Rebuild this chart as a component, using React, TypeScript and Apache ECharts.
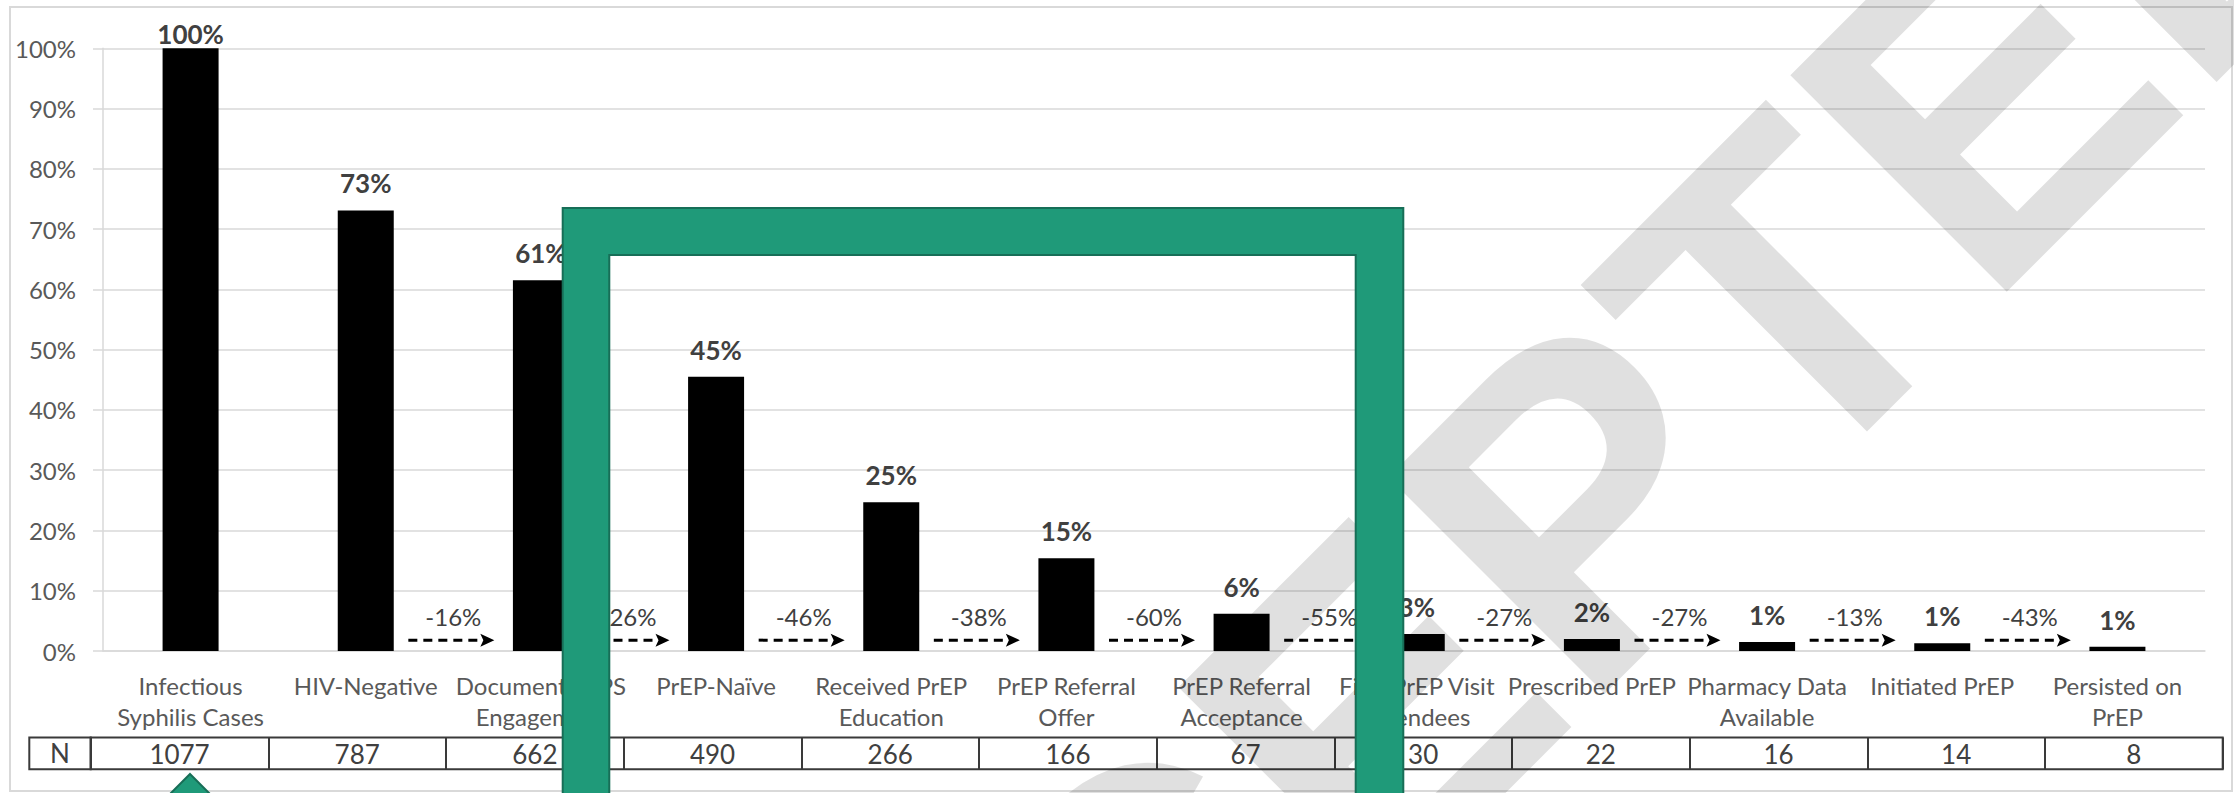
import React, { useEffect, useRef } from "react";
import * as echarts from "echarts";

// ---------- data ----------
const categories = [
  "Infectious\nSyphilis Cases",
  "HIV-Negative",
  "Documented PS\nEngagement",
  "PrEP-Naïve",
  "Received PrEP\nEducation",
  "PrEP Referral\nOffer",
  "PrEP Referral\nAcceptance",
  "First PrEP Visit\nAttendees",
  "Prescribed PrEP",
  "Pharmacy Data\nAvailable",
  "Initiated PrEP",
  "Persisted on\nPrEP",
];
const pctValues = [100, 73.1, 61.5, 45.5, 24.7, 15.4, 6.2, 2.8, 2.0, 1.5, 1.3, 0.7];
const pctLabels = ["100%", "73%", "61%", "45%", "25%", "15%", "6%", "3%", "2%", "1%", "1%", "1%"];
const nValues = [1077, 787, 662, 490, 266, 166, 67, 30, 22, 16, 14, 8];
// change between consecutive steps, starting between step 2 and step 3
const changeLabels = ["-16%", "-26%", "-46%", "-38%", "-60%", "-55%", "-27%", "-27%", "-13%", "-43%"];
const changeStartIndex = 1;
const yTicks = [0, 10, 20, 30, 40, 50, 60, 70, 80, 90, 100];
const watermarkText = "ACCEPTED";

// ---------- layout / style ----------
const W = 2234;
const H = 793;
const FONT = "Lato, 'Open Sans', sans-serif";
const GREEN = "#1f9a79";
const GREEN_DARK = "#176e57";
const arrowLevel = 1.8;

export default function App() {
  const ref = useRef<HTMLDivElement>(null);

  useEffect(() => {
    document.body.style.margin = "0";
    if (!ref.current) return;
    const chart = echarts.init(ref.current, undefined, { renderer: "svg" });

    const tableLeft = 29.3;
    const nCellRight = 90.7;
    const tableRight = 2222.7;
    const tableTop = 737.5;
    const tableBottom = 769.3;

    const option: any = {
      animation: false,
      backgroundColor: "#ffffff",
      grid: [
        { left: 103, right: W - 2205, top: 48.3, bottom: H - 651, containLabel: false },
        {
          left: nCellRight,
          right: W - tableRight,
          top: tableTop,
          height: tableBottom - tableTop,
          show: true,
          borderColor: "#3a3a3a",
          borderWidth: 2,
          backgroundColor: "transparent",
          containLabel: false,
        },
      ],
      xAxis: [
        {
          type: "category",
          gridIndex: 0,
          data: categories,
          axisLine: { show: true, lineStyle: { color: "#d9d9d9", width: 1.5 } },
          axisTick: { show: false },
          axisLabel: {
            interval: 0,
            color: "#595959",
            fontFamily: FONT,
            fontSize: 24,
            lineHeight: 31,
            verticalAlign: "top",
            margin: 19,
          },
        },
        {
          type: "category",
          gridIndex: 1,
          position: "top",
          data: nValues.map((n) => String(n)),
          axisLine: { show: false },
          axisTick: { show: false },
          splitLine: { show: true, interval: 0, lineStyle: { color: "#3a3a3a", width: 2 } },
          axisLabel: {
            inside: true,
            interval: 0,
            margin: 16,
            verticalAlign: "middle",
            color: "#404040",
            fontFamily: FONT,
            fontSize: 26,
          },
        },
      ],
      yAxis: [
        {
          type: "value",
          gridIndex: 0,
          min: yTicks[0],
          max: yTicks[yTicks.length - 1],
          interval: 10,
          axisLine: { show: true, lineStyle: { color: "#d9d9d9", width: 1.5 } },
          axisTick: { show: true, length: 10, lineStyle: { color: "#d9d9d9", width: 1.5 } },
          splitLine: { show: true, lineStyle: { color: "#d9d9d9", width: 1.5 } },
          axisLabel: {
            formatter: "{value}%",
            color: "#595959",
            fontFamily: FONT,
            fontSize: 24,
            margin: 27,
          },
        },
        { type: "value", gridIndex: 1, show: false, min: 0, max: 1 },
      ],
      series: [
        {
          type: "bar",
          xAxisIndex: 0,
          yAxisIndex: 0,
          barWidth: 56,
          itemStyle: { color: "#000000" },
          data: pctValues.map((v, i) => (i === 0 ? { value: v, label: { distance: 1 } } : v)),
          label: {
            show: true,
            position: "top",
            distance: 14,
            formatter: (p: any) => pctLabels[p.dataIndex],
            color: "#404040",
            fontFamily: FONT,
            fontWeight: "bold",
            fontSize: 26,
          },
          z: 3,
        },
        {
          type: "custom",
          xAxisIndex: 0,
          yAxisIndex: 0,
          z: 4,
          data: changeLabels.map((_, k) => [k + changeStartIndex, arrowLevel]),
          renderItem: (params: any, api: any) => {
            const idx = api.value(0);
            const p = api.coord([idx, api.value(1)]);
            const bw = api.size([1, 0])[0];
            const cx = p[0] + bw / 2;
            const y = p[1];
            return {
              type: "group",
              children: [
                {
                  type: "line",
                  shape: { x1: cx - 45, y1: y, x2: cx + 28, y2: y },
                  style: { stroke: "#000", lineWidth: 3, lineDash: [9, 6] },
                },
                {
                  type: "polygon",
                  shape: { points: [[cx + 27, y - 6.5], [cx + 41, y], [cx + 27, y + 6.5], [cx + 30, y]] },
                  style: { fill: "#000" },
                },
                {
                  type: "text",
                  x: cx,
                  y: y - 24,
                  style: {
                    text: changeLabels[params.dataIndex],
                    fill: "#404040",
                    fontFamily: FONT,
                    fontSize: 24,
                    align: "center",
                    verticalAlign: "middle",
                  },
                },
              ],
            };
          },
        },
      ],
      graphic: [
        {
          type: "rect",
          z: 0,
          shape: { x: 10, y: 7, width: 2222, height: 784 },
          style: { fill: "none", stroke: "#d9d9d9", lineWidth: 2 },
          silent: true,
        },
        {
          type: "rect",
          z: 5,
          shape: { x: tableLeft, y: tableTop, width: nCellRight - tableLeft, height: tableBottom - tableTop },
          style: { fill: "none", stroke: "#3a3a3a", lineWidth: 2 },
        },
        {
          type: "text",
          z: 5,
          x: (tableLeft + nCellRight) / 2,
          y: (tableTop + tableBottom) / 2,
          style: {
            text: "N",
            fill: "#404040",
            fontFamily: FONT,
            fontSize: 26,
            align: "center",
            verticalAlign: "middle",
          },
        },
        {
          type: "text",
          z: 50,
          x: 583,
          y: 1497,
          rotation: Math.PI / 4,
          silent: true,
          style: {
            text: watermarkText,
            fill: "rgba(0,0,0,0.12)",
            fontFamily: "'Liberation Sans', Arial, sans-serif",
            fontWeight: "bold",
            fontSize: 445,
            align: "left",
            verticalAlign: "middle",
          },
        },
        {
          type: "polygon",
          z: 100,
          shape: {
            points: [
              [562.7, 800],
              [562.7, 208],
              [1403.3, 208],
              [1403.3, 800],
              [1355.7, 800],
              [1355.7, 255],
              [609.3, 255],
              [609.3, 800],
            ],
          },
          style: { fill: GREEN, stroke: GREEN_DARK, lineWidth: 2 },
        },
        {
          type: "polygon",
          z: 100,
          shape: { points: [[190, 774], [214, 798], [166, 798]] },
          style: { fill: GREEN, stroke: GREEN_DARK, lineWidth: 2 },
        },
      ],
    };

    chart.setOption(option);
    return () => chart.dispose();
  }, []);

  return (
    <div
      ref={ref}
      style={{ position: "absolute", left: 0, top: 0, width: W, height: H, background: "#fff" }}
    />
  );
}
